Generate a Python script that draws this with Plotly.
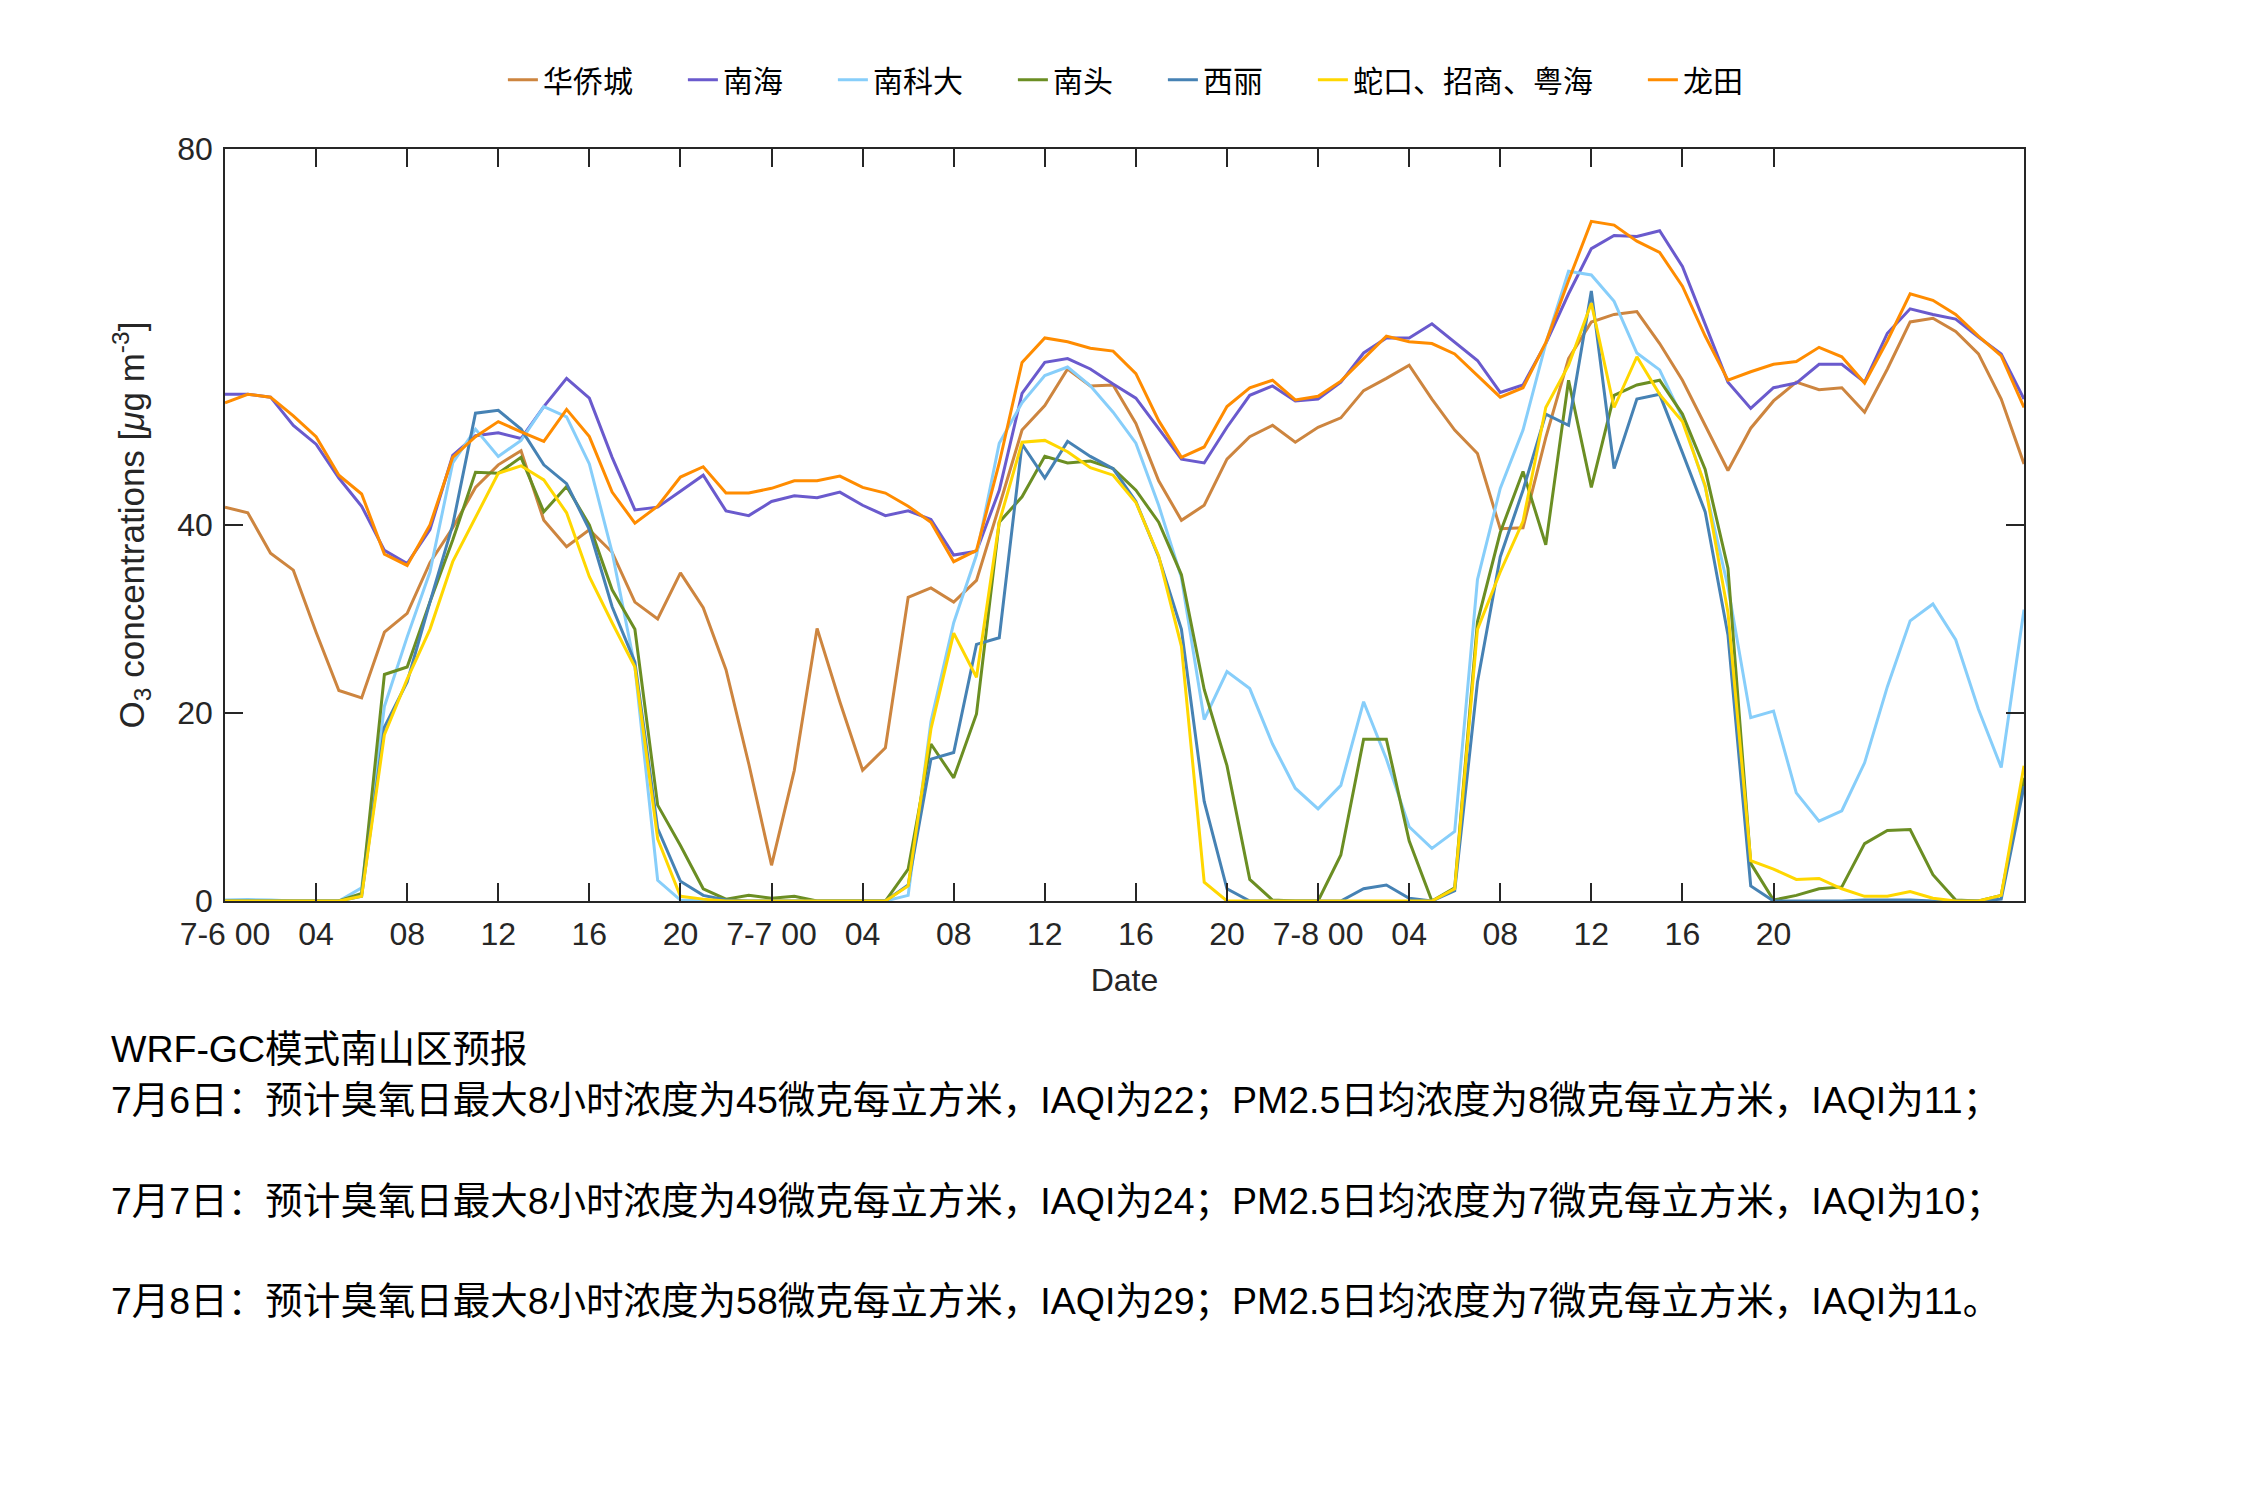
import plotly.graph_objects as go

hours = list(range(80))

tick_vals = list(range(0, 69, 4))
tick_text = ["7-6 00", "04", "08", "12", "16", "20",
             "7-7 00", "04", "08", "12", "16", "20",
             "7-8 00", "04", "08", "12", "16", "20"]

station_names = ["华侨城", "南海", "南科大", "南头", "西丽", "蛇口、招商、粤海", "龙田"]
station_colors = ["#CD853F", "#6A5ACD", "#87CEFA", "#6B8E23", "#4682B4", "#FFD700", "#FF8C00"]

huaqiaocheng = [41.9, 41.3, 37.0, 35.2, 28.6, 22.4, 21.6, 28.6, 30.6, 36.0,
                39.7, 44.0, 46.4, 47.9, 40.5, 37.7, 39.5, 37.1, 31.8, 30.0,
                34.9, 31.2, 24.6, 14.6, 3.8, 13.9, 29.0, 21.2, 13.9, 16.3,
                32.3, 33.3, 31.8, 34.1, 42.0, 50.1, 52.7, 56.6, 54.8, 54.9,
                50.8, 44.7, 40.5, 42.1, 47.0, 49.4, 50.6, 48.8, 50.4, 51.4,
                54.3, 55.6, 57.0, 53.4, 50.1, 47.6, 39.6, 39.7, 49.3, 57.7,
                61.6, 62.4, 62.7, 59.3, 55.4, 50.6, 45.8, 50.3, 53.2, 55.2,
                54.4, 54.6, 52.0, 56.6, 61.6, 62.0, 60.6, 58.2, 53.4, 46.5]

nanhai = [53.9, 53.9, 53.6, 50.6, 48.6, 45.0, 42.0, 37.3, 35.9, 39.5,
          47.4, 49.5, 49.8, 49.2, 52.6, 55.6, 53.5, 47.2, 41.6, 41.9,
          43.6, 45.3, 41.5, 41.0, 42.5, 43.1, 42.9, 43.5, 42.1, 41.0,
          41.5, 40.6, 36.8, 37.2, 43.7, 54.0, 57.3, 57.7, 56.6, 55.0,
          53.5, 50.3, 47.0, 46.6, 50.4, 53.8, 54.8, 53.2, 53.4, 55.2,
          58.3, 59.9, 59.9, 61.4, 59.4, 57.5, 54.1, 54.9, 59.3, 64.6,
          69.4, 70.8, 70.7, 71.3, 67.5, 61.4, 55.2, 52.4, 54.6, 55.1,
          57.1, 57.1, 55.2, 60.4, 63.0, 62.4, 61.9, 60.0, 58.2, 53.4]

nankeda = [0.1, 0.15, 0.1, 0.0, 0.0, 0.0, 1.4, 20.7, 28.1, 35.0,
           46.6, 50.2, 47.3, 49.0, 52.6, 51.5, 46.5, 37.1, 24.9, 2.2,
           0.1, 0.0, 0.0, 0.0, 0.0, 0.0, 0.0, 0.0, 0.0, 0.0,
           0.6, 19.1, 29.6, 36.8, 48.7, 53.0, 55.9, 56.8, 54.8, 52.0,
           48.7, 42.1, 34.4, 19.3, 24.4, 22.6, 16.7, 12.0, 9.8, 12.3,
           21.2, 15.1, 7.9, 5.6, 7.4, 34.2, 43.9, 50.1, 59.3, 67.0,
           66.6, 63.8, 58.3, 56.5, 51.4, 44.0, 33.4, 19.5, 20.2, 11.5,
           8.5, 9.6, 14.7, 22.8, 29.8, 31.6, 27.8, 20.4, 14.2, 31.0]

nantou = [0.0, 0.0, 0.0, 0.0, 0.0, 0.0, 0.8, 24.1, 24.9, 31.8,
          38.4, 45.6, 45.5, 47.2, 41.4, 44.1, 40.0, 33.1, 28.9, 10.2,
          5.9, 1.3, 0.2, 0.6, 0.3, 0.5, 0.0, 0.0, 0.0, 0.0,
          3.4, 16.7, 13.1, 19.9, 40.3, 43.0, 47.3, 46.6, 46.8, 46.0,
          43.7, 40.3, 34.7, 22.5, 14.4, 2.3, 0.1, 0.0, 0.0, 4.9,
          17.2, 17.2, 6.4, 0.0, 1.4, 29.7, 39.2, 45.7, 37.9, 55.4,
          44.0, 53.8, 54.9, 55.4, 51.8, 45.9, 35.4, 4.0, 0.1, 0.6,
          1.3, 1.5, 6.1, 7.5, 7.6, 2.8, 0.1, 0.0, 0.6, 13.1]

xili = [0.0, 0.0, 0.0, 0.0, 0.0, 0.0, 0.5, 18.5, 23.3, 31.8,
        40.0, 51.9, 52.2, 50.2, 46.4, 44.4, 39.5, 31.3, 25.4, 7.7,
        2.1, 0.6, 0.1, 0.0, 0.0, 0.0, 0.0, 0.0, 0.0, 0.0,
        1.7, 15.1, 15.8, 27.3, 28.0, 48.6, 45.0, 48.9, 47.3, 46.0,
        42.5, 36.6, 28.9, 10.6, 1.3, 0.0, 0.0, 0.0, 0.0, 0.0,
        1.3, 1.7, 0.3, 0.0, 1.1, 23.3, 36.6, 43.7, 51.8, 50.6,
        64.9, 46.0, 53.4, 53.9, 47.7, 41.4, 28.3, 1.6, 0.0, 0.0,
        0.0, 0.0, 0.1, 0.1, 0.1, 0.0, 0.0, 0.0, 0.2, 12.2]

shekou = [0.0, 0.0, 0.0, 0.0, 0.0, 0.0, 0.5, 17.7, 23.6, 28.9,
          36.1, 40.8, 45.5, 46.3, 44.8, 41.3, 34.5, 29.6, 24.9, 6.6,
          0.5, 0.2, 0.0, 0.0, 0.0, 0.0, 0.0, 0.0, 0.0, 0.0,
          1.6, 18.3, 28.5, 23.8, 40.3, 48.8, 49.0, 47.8, 46.1, 45.3,
          42.4, 36.7, 27.1, 2.0, 0.0, 0.0, 0.0, 0.0, 0.0, 0.0,
          0.0, 0.0, 0.0, 0.0, 1.3, 28.9, 35.0, 40.4, 52.5, 57.0,
          63.6, 52.5, 57.9, 53.9, 51.0, 44.2, 30.7, 4.3, 3.4, 2.3,
          2.4, 1.3, 0.5, 0.5, 1.0, 0.3, 0.0, 0.0, 0.6, 14.4]

longtian = [53.0, 53.9, 53.6, 51.6, 49.4, 45.3, 43.3, 36.9, 35.7, 40.0,
            47.2, 49.4, 51.0, 49.9, 48.9, 52.3, 49.4, 43.5, 40.2, 42.0,
            45.1, 46.2, 43.4, 43.4, 43.9, 44.7, 44.7, 45.2, 44.0, 43.4,
            42.0, 40.3, 36.1, 37.3, 46.6, 57.3, 59.9, 59.5, 58.8, 58.5,
            56.1, 51.1, 47.2, 48.3, 52.6, 54.6, 55.4, 53.3, 53.7, 55.3,
            57.7, 60.1, 59.5, 59.3, 58.2, 55.9, 53.6, 54.6, 59.4, 66.0,
            72.3, 71.9, 70.2, 69.0, 65.4, 60.1, 55.4, 56.3, 57.1, 57.4,
            58.9, 57.9, 55.1, 59.6, 64.6, 63.9, 62.4, 60.1, 58.0, 52.5]

series = [huaqiaocheng, nanhai, nankeda, nantou, xili, shekou, longtian]

y_ticks = [0, 20, 40, 80]

notes = [
    "WRF-GC模式南山区预报",
    "7月6日：预计臭氧日最大8小时浓度为45微克每立方米，IAQI为22；PM2.5日均浓度为8微克每立方米，IAQI为11；",
    "7月7日：预计臭氧日最大8小时浓度为49微克每立方米，IAQI为24；PM2.5日均浓度为7微克每立方米，IAQI为10；",
    "7月8日：预计臭氧日最大8小时浓度为58微克每立方米，IAQI为29；PM2.5日均浓度为7微克每立方米，IAQI为11。",
]
note_y = [-0.1962, -0.2647, -0.3993, -0.5323]

FONT = "Liberation Sans, Noto Sans CJK SC, sans-serif"
AX = "#262626"

fig = go.Figure()
for name, color, vals in zip(station_names, station_colors, series):
    fig.add_trace(go.Scatter(x=hours, y=vals, mode="lines", name=name + "\u3000\u2002",
                             line=dict(color=color, width=3)))

fig.update_layout(
    width=2250, height=1500,
    margin=dict(l=225, r=226, t=149, b=599, autoexpand=False),
    paper_bgcolor="white", plot_bgcolor="white",
    font=dict(family=FONT, size=32, color=AX),
    showlegend=True,
    legend=dict(orientation="h", x=0.513, xanchor="center", y=1.092, yanchor="middle",
                font=dict(family="Noto Sans CJK SC, sans-serif", size=30, color="black"),
                bgcolor="rgba(0,0,0,0)"),
)

fig.update_xaxes(range=[0, 79], tickvals=tick_vals, ticktext=tick_text,
                 ticks="inside", ticklen=18, tickwidth=1.5, tickcolor=AX,
                 showline=True, linecolor=AX, linewidth=1.5, mirror="ticks",
                 showgrid=False, zeroline=False, ticklabelstandoff=4,
                 tickfont=dict(size=32, color=AX),
                 title=dict(text="Date", font=dict(size=32, color=AX), standoff=17))
fig.update_yaxes(range=[0, 80], tickvals=y_ticks,
                 ticks="inside", ticklen=18, tickwidth=1.5, tickcolor=AX,
                 showline=True, linecolor=AX, linewidth=1.5, mirror="ticks",
                 showgrid=False, zeroline=False, ticklabelstandoff=4,
                 tickfont=dict(size=32, color=AX),
                 title=dict(text="O<sub>3</sub> concentrations [<i>μ</i>g m<sup>-3</sup>]",
                            font=dict(size=35, color=AX), standoff=22))

for txt, yy in zip(notes, note_y):
    fig.add_annotation(text=txt, x=-0.0645, y=yy, xref="paper", yref="paper",
                       xanchor="left", yanchor="middle", showarrow=False,
                       font=dict(family=FONT, size=37.5, color="black"))

fig.write_html("out.html")
